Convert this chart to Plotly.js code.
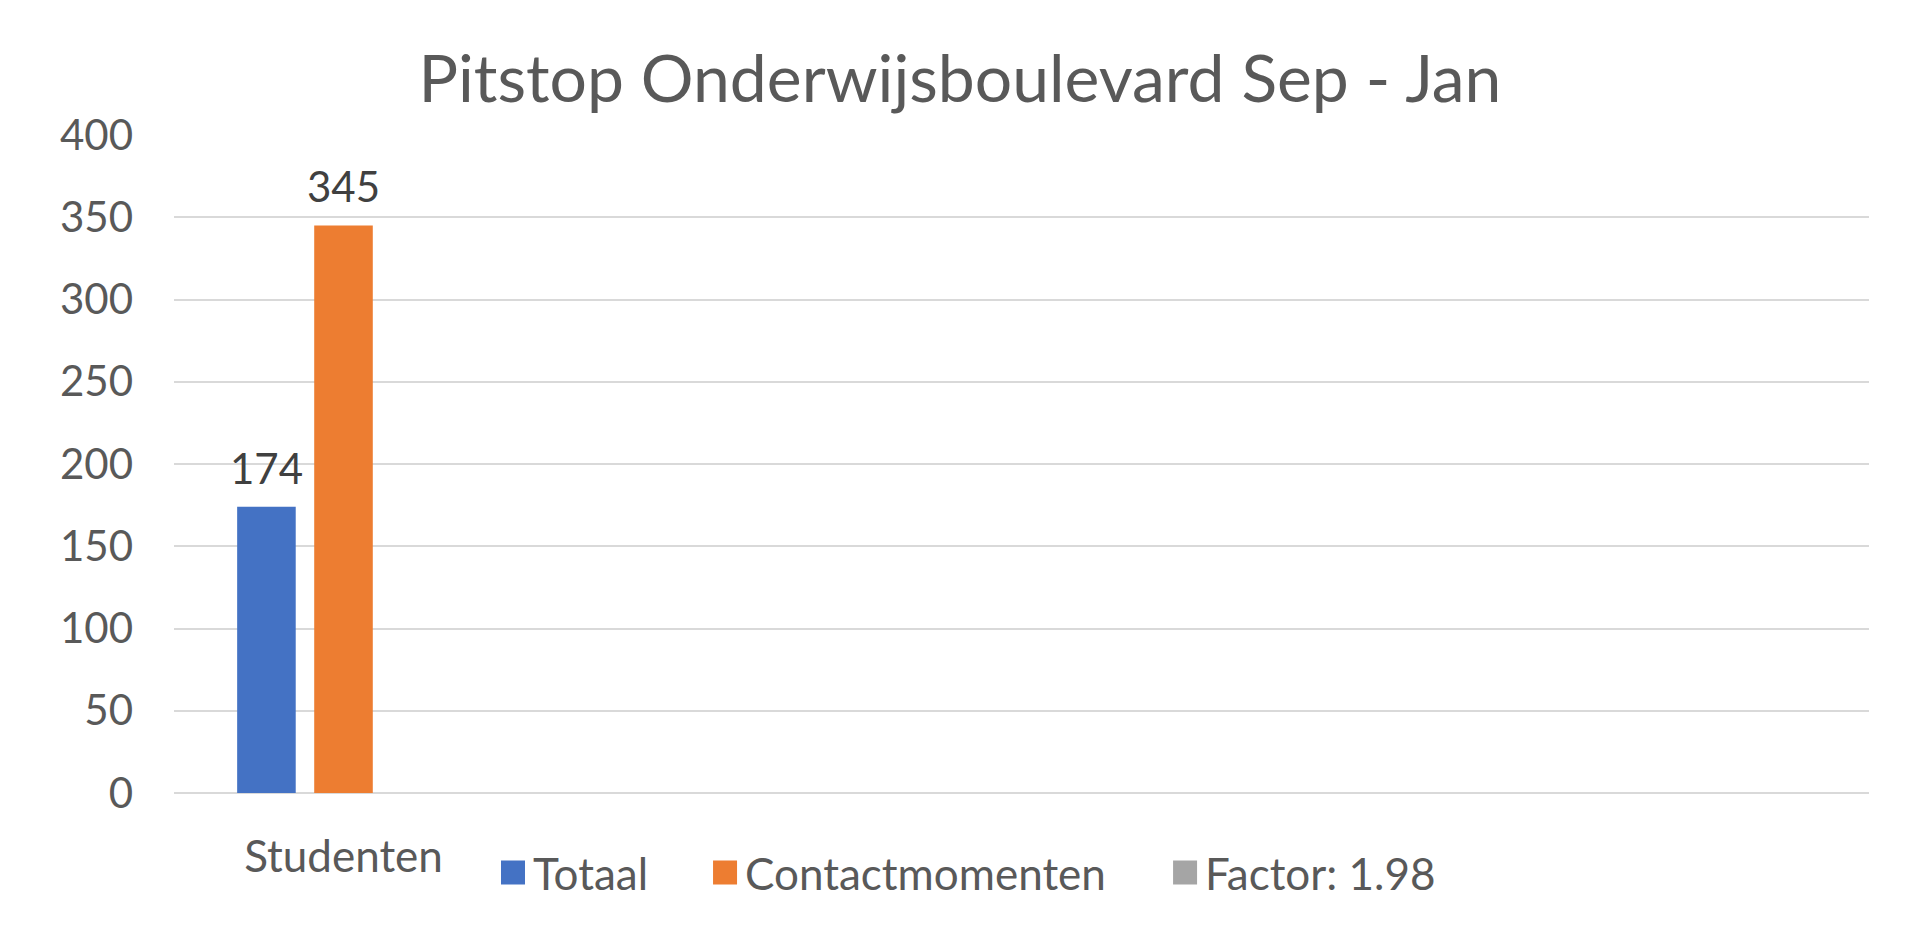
<!DOCTYPE html>
<html>
<head>
<meta charset="utf-8">
<script src="https://cdn.plot.ly/plotly-3.0.1.min.js"></script>
<style>
  html, body { margin: 0; padding: 0; background: #fff; }
  #chart { width: 1920px; height: 938px; outline: 2px solid #d9d9d9; outline-offset: -2px; }
</style>
</head>
<body>
<div id="chart"></div>
<script>
// Chart data
var categories = ["Studenten", "cat2", "cat3", "cat4", "cat5"];
var tickLabels = ["Studenten", "", "", "", ""];
var totaal = [174, null, null, null, null];
var contactmomenten = [345, null, null, null, null];
var factor = [null, null, null, null, null];
var seriesNames = ["Totaal", "Contactmomenten", "Factor: 1.98"];
var seriesColors = ["#4472c4", "#ed7d31", "#a5a5a5"];
var yTicks = [0, 50, 100, 150, 200, 250, 300, 350, 400];

var textColor = "#595959";
var fontName = "Lato, 'Open Sans', sans-serif";

var W = 1920, H = 938;
var margin = { l: 174, r: 51, t: 135, b: 145 };
var bargap = 0.318;
var series = [totaal, contactmomenten, factor];
var legendIds = ["legend", "legend2", "legend3"];
var legendX = [0.1882, 0.3133, 0.5847];

var data = series.map(function (values, i) {
  return {
    type: "bar",
    name: seriesNames[i],
    x: categories,
    y: values,
    marker: { color: seriesColors[i] },
    legend: legendIds[i],
    hoverinfo: "skip"
  };
});

// value labels above each bar, shifted to the bar's slot inside the group
var catWidth = (W - margin.l - margin.r) / categories.length;
var slot = catWidth * (1 - bargap) / series.length;
var annotations = [];
series.forEach(function (values, i) {
  values.forEach(function (v, j) {
    if (v === null) return;
    annotations.push({
      x: categories[j],
      y: v,
      xref: "x",
      yref: "y",
      text: String(v),
      showarrow: false,
      xanchor: "center",
      yanchor: "bottom",
      xshift: (i - (series.length - 1) / 2) * slot,
      yshift: 12,
      font: { family: fontName, size: 42, color: "#404040" }
    });
  });
});

var layout = {
  width: W,
  height: H,
  margin: margin,
  paper_bgcolor: "#ffffff",
  plot_bgcolor: "#ffffff",
  font: { family: fontName, color: textColor, size: 42 },
  title: {
    text: "Pitstop Onderwijsboulevard Sep - Jan",
    font: { family: fontName, size: 66, color: textColor },
    x: 0.5,
    xanchor: "center",
    y: 0.916,
    yanchor: "middle"
  },
  barmode: "group",
  bargap: bargap,
  bargroupgap: 0.24,
  showlegend: true,
  annotations: annotations,
  xaxis: {
    type: "category",
    tickvals: categories,
    ticktext: tickLabels,
    showgrid: false,
    showline: false,
    zeroline: false,
    ticks: "",
    ticklabelstandoff: 34,
    tickfont: { family: fontName, size: 44, color: textColor },
    fixedrange: true
  },
  yaxis: {
    range: [0, 400],
    tickvals: yTicks,
    showgrid: true,
    gridcolor: "#d9d9d9",
    gridwidth: 2,
    zeroline: true,
    zerolinecolor: "#d9d9d9",
    zerolinewidth: 2,
    showline: false,
    ticks: "",
    ticklabelstandoff: 40,
    tickfont: { family: fontName, size: 42, color: textColor },
    fixedrange: true
  }
};

// one legend per series so the entries sit where Excel put them
legendIds.forEach(function (id, i) {
  layout[id] = {
    orientation: "h",
    x: legendX[i],
    xanchor: "left",
    y: -0.1216,
    yanchor: "middle",
    font: { family: fontName, size: 44, color: textColor },
    bgcolor: "rgba(0,0,0,0)"
  };
});

Plotly.newPlot("chart", data, layout, { displayModeBar: false, staticPlot: true }).then(function () {
  // enlarge legend swatches to match the Excel look
  document.querySelectorAll("#chart .legendpoints path").forEach(function (p) {
    p.setAttribute("d", "M12,12H-12V-12H12Z");
  });
});
</script>
</body>
</html>
